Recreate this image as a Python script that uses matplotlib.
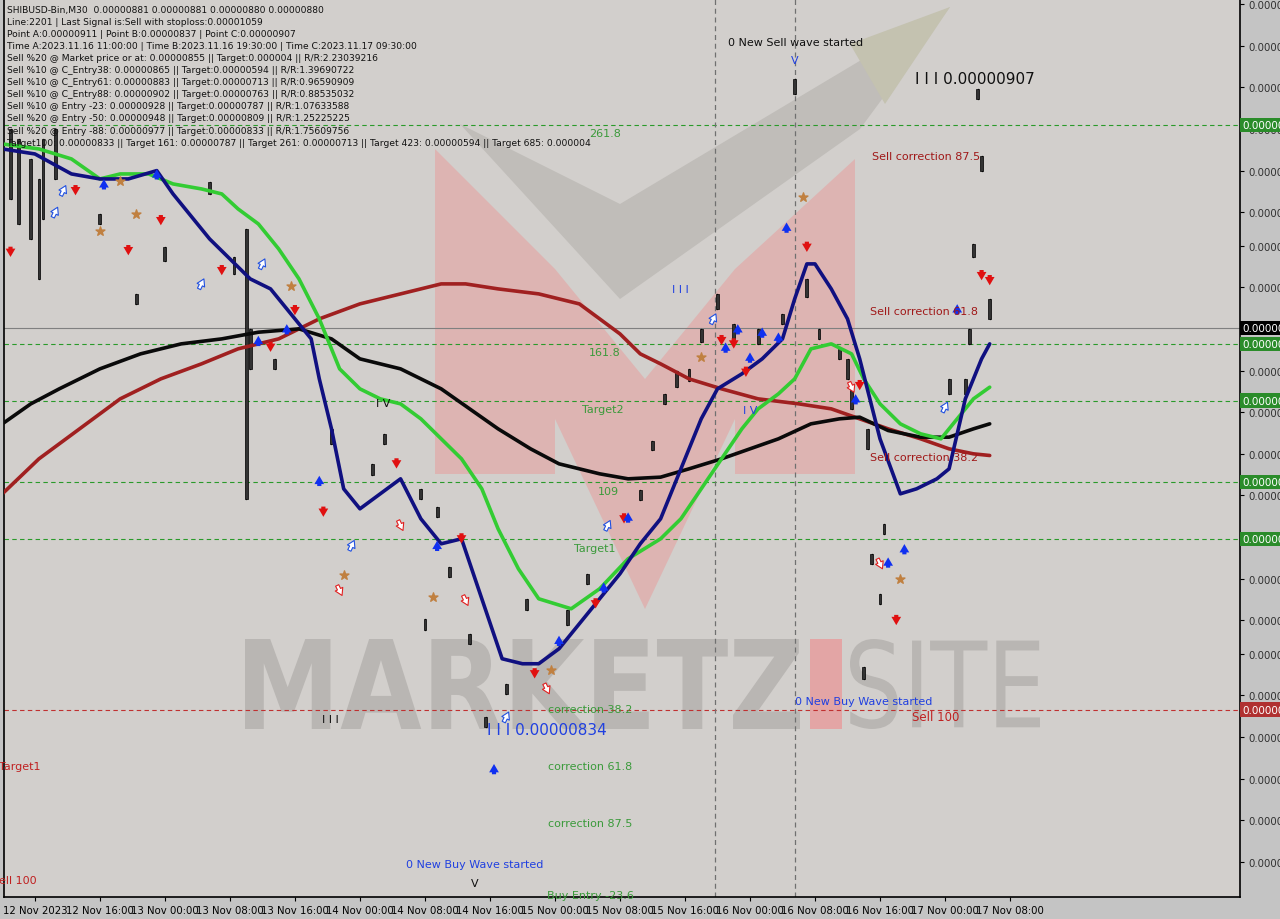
import matplotlib
matplotlib.use("Agg")
import matplotlib.pyplot as plt
import numpy as np
from matplotlib.patches import Polygon, PathPatch
from matplotlib.textpath import TextPath
from matplotlib.font_manager import FontProperties
from matplotlib.transforms import Affine2D

S = 1e-8  # price unit

navy = [(-8,903.6),(0,903.0),(9,900.6),(16,900.0),(23,900.0),(30,901.0),(34,898.2),(38,895.8),(43,892.8),(48,890.4),
        (53,888.0),(58,886.8),(63,883.8),(68,880.8),(70,876.0),(73,870.0),(76,862.8),(80,860.4),(85,862.2),(90,864.0),
        (95,859.2),(100,856.2),(105,856.8),(110,849.6),(115,842.4),(120,841.8),(124,841.8),(129,843.6),(134,846.6),
        (139,849.6),(144,852.6),(149,856.2),(154,859.2),(159,865.2),(164,871.2),(168,874.8),(174,876.6),(179,878.4),
        (184,880.8),(187,885.6),(190,889.8),(192,889.8),(196,886.8),(200,883.2),(203,878.4),(208,868.8),(213,862.2),
        (217,862.8),(222,864.0),(225,865.2),(229,873.6),(233,878.4),(235,880.2)]
green = [(-8,904.2),(1,903.6),(9,902.4),(16,900.0),(21,900.6),(28,900.6),(34,899.4),(41,898.8),(46,898.2),(50,896.4),
         (55,894.6),(60,891.6),(65,888.0),(70,883.2),(75,877.2),(80,874.8),(85,873.6),(90,873.0),(95,871.2),(100,868.8),
         (105,866.4),(110,862.8),(114,858.0),(119,853.2),(124,849.6),(132,848.4),(139,850.8),(146,854.4),(154,856.8),
         (159,859.2),(164,862.8),(169,866.4),(174,870.0),(178,872.4),(183,874.2),(187,876.0),(191,879.6),(196,880.2),
         (201,879.0),(204,876.0),(208,873.0),(213,870.6),(218,869.4),(223,868.8),(226,870.6),(231,873.6),(235,875.0)]
black = [(-8,870.6),(-1,873.0),(6,874.8),(16,877.2),(26,879.0),(36,880.2),(46,880.8),(55,881.6),(65,882.0),(73,880.8),
         (80,878.4),(90,877.2),(100,874.8),(107,872.4),(114,870.0),(122,867.6),(129,865.8),(139,864.6),(146,864.0),
         (154,864.2),(161,865.2),(169,866.4),(176,867.6),(183,868.8),(191,870.6),(198,871.2),(203,871.4),(210,869.8),
         (218,869.0),(225,869.0),(231,870.0),(235,870.6)]
darkred = [(-8,862.2),(1,866.4),(11,870.0),(21,873.6),(31,876.0),(41,877.8),(50,879.6),(60,880.8),(70,883.2),(80,885.0),
           (90,886.2),(100,887.4),(106,887.4),(114,886.8),(124,886.2),(134,885.0),(139,883.2),(144,881.4),(149,879.0),
           (154,877.8),(161,876.0),(169,874.8),(178,873.6),(188,873.0),(196,872.4),(203,871.2),(210,870.0),(218,868.8),
           (225,867.6),(231,867.0),(235,866.8)]
candles = [(-6,906.0,897.6),(-4,904.8,894.6),(-1,902.4,892.8),(1,900.0,888.0),(2,904.8,895.2),(5,906.0,900.0),
           (16,895.8,894.6),(25,886.2,885.0),(32,891.8,890.2),(43,899.6,898.2),(49,890.6,888.6),(52,894.0,861.6),
           (53,882.0,877.2),(59,878.4,877.2),(73,870.0,868.2),(83,865.8,864.4),(86,869.4,868.2),(95,862.8,861.6),
           (99,860.6,859.4),(96,847.2,845.8),(102,853.4,852.2),(107,845.4,844.2),(111,835.4,834.2),(116,839.4,838.2),
           (121,849.6,848.2),(131,848.2,846.4),(136,852.6,851.4),(149,862.6,861.4),(152,868.6,867.4),(155,874.2,873.0),
           (158,877.0,875.0),(161,877.2,875.8),(164,882.0,880.4),(168,886.2,884.4),(172,882.6,880.8),(178,882.0,880.2),
           (184,883.8,882.6),(187,912.0,910.2),(190,888.0,885.8),(193,882.0,880.8),(198,879.6,878.4),(200,878.4,876.0),
           (205,870.0,867.6),(201,874.8,872.4),(209,858.6,857.4),(206,855.0,853.8),(208,850.2,849.0),(204,841.4,840.0),
           (225,876.0,874.2),(229,876.0,874.2),(230,882.0,880.2),(231,892.2,890.6),(232,910.8,909.6),(233,902.8,901.0),
           (235,885.6,883.2)]
red_down = [(-6,891.6),(10,899.0),(23,891.8),(31,895.4),(46,889.4),(58,880.2),(64,884.6),(89,866.2),(71,860.4),
            (105,857.2),(123,841.0),(138,849.4),(145,859.6),(169,881.0),(172,880.6),(175,877.2),(190,892.2),
            (203,875.6),(212,847.4),(233,888.8),(235,888.2)]
blue_up = [(17,899.0),(30,900.2),(55,880.2),(62,881.6),(70,863.4),(99,855.6),(113,828.8),(129,844.2),(140,850.6),
           (146,859.0),(170,879.4),(173,881.6),(176,878.2),(179,881.2),(183,880.6),(185,893.8),(202,873.2),
           (210,853.6),(214,855.2),(227,884.0)]
stars = [(21,899.8),(25,895.8),(16,893.8),(63,887.2),(76,852.4),(98,849.8),(127,841.0),(189,897.8),(213,852.0),(164,878.6)]
blue_hollow = [(7,898.6),(5,896.0),(41,887.4),(56,889.8),(78,856.0),(116,835.4),(141,858.4),(167,883.2),(224,872.6)]
red_hollow = [(75,850.6),(90,858.4),(106,849.4),(126,838.8),(201,875.0),(208,853.8)]
green_levels = [906.5, 880.2, 873.4, 863.6, 856.8]
red_level = 836.3
last_price = 882.1
vlines_bars = [167.4, 187]
xtick_bars = list(range(0, 241, 16))
xtick_labels = ['12 Nov 2023','12 Nov 16:00','13 Nov 00:00','13 Nov 08:00','13 Nov 16:00','14 Nov 00:00',
                '14 Nov 08:00','14 Nov 16:00','15 Nov 00:00','15 Nov 08:00','15 Nov 16:00','16 Nov 00:00',
                '16 Nov 08:00','16 Nov 16:00','17 Nov 00:00','17 Nov 08:00']
ytick_vals = [921, 916, 911, 906, 901, 896, 892, 887, 882, 877, 872, 867, 862, 857, 852, 847, 843, 838, 833, 828, 823, 818]

fig = plt.figure(figsize=(12.8, 9.2), dpi=100, facecolor='#c4c4c4')
ax = fig.add_axes([4/1280, 22/920, 1236/1280, 898/920])
ax.set_facecolor('#d2cfcc')
ax.set_xlim(-7.6, 296.6)
ax.set_ylim(813.8*S, 921.6*S)

def A(x, y):  # pixel in reference -> axes fraction (for annotation placement)
    return ((x-4)/1236, 1-y/898)

T = ax.transAxes
# watermark
ax.add_patch(Polygon([A(460,125),A(620,205),A(950,8),A(860,130),A(620,300)], closed=True, transform=T,
                     facecolor='#c0bdb9', edgecolor='none', zorder=0))
ax.add_patch(Polygon([A(850,45),A(950,8),A(885,105)], closed=True, transform=T, facecolor='#c4c2b0', edgecolor='none', zorder=0))
for poly in ([A(435,150),A(555,270),A(555,475),A(435,475)],
             [A(555,270),A(645,380),A(735,270),A(735,420),A(645,610),A(555,420)],
             [A(735,270),A(855,160),A(855,475),A(735,475)]):
    ax.add_patch(Polygon(poly, closed=True, transform=T, facecolor='#e89a9a', alpha=0.5, edgecolor='none', zorder=0))

def fit_text(s, x0, x1, ytop, ybot, bold):
    fp = FontProperties(family='DejaVu Sans', weight='bold' if bold else 'normal')
    tp = TextPath((0, 0), s, size=100, prop=fp)
    ext = tp.get_extents()
    (ax0, ay1), (ax1, ay0) = A(x0, ytop), A(x1, ybot)
    tr = Affine2D().translate(-ext.x0, -ext.y0).scale((ax1-ax0)/ext.width, (ay1-ay0)/ext.height).translate(ax0, ay0)
    ax.add_patch(PathPatch(tr.transform_path(tp), transform=T, facecolor='#b9b6b3', edgecolor='none', zorder=0))
fit_text('MARKETZ', 245, 800, 640, 730, True)
fit_text('SITE', 850, 1040, 640, 730, False)
ax.add_patch(Polygon([A(810,640),A(842,640),A(842,730),A(810,730)], closed=True, transform=T, facecolor='#e3a5a5', edgecolor='none', zorder=0))

# levels
for lv in green_levels:
    ax.axhline(lv*S, color='#2a9a2a', ls=(0,(4,3)), lw=0.8)
    ax.text(1.002, lv*S, '0.00000%d' % round(lv), transform=ax.get_yaxis_transform(), fontsize=7.5, color='white',
            va='center', ha='left', bbox=dict(facecolor='#2a8c2a', edgecolor='none', pad=1.5), clip_on=False)
ax.axhline(red_level*S, color='#c03030', ls=(0,(4,3)), lw=0.8)
ax.text(1.002, red_level*S, '0.00000%d' % round(red_level), transform=ax.get_yaxis_transform(), fontsize=7.5, color='white',
        va='center', ha='left', bbox=dict(facecolor='#b03030', edgecolor='none', pad=1.5), clip_on=False)
ax.axhline(last_price*S, color='#808080', lw=0.8)
ax.text(1.002, last_price*S, '0.00000%d' % round(last_price), transform=ax.get_yaxis_transform(), fontsize=7.5, color='white',
        va='center', ha='left', bbox=dict(facecolor='black', edgecolor='none', pad=1.5), clip_on=False)
for vb in vlines_bars:
    ax.axvline(vb, color='#707070', ls=(0,(4,3)), lw=0.9)

# candles
for b, hi, lo in candles:
    ax.plot([b, b], [lo*S, hi*S], color='black', lw=0.9, zorder=3)
    ax.add_patch(plt.Rectangle((b-0.35, lo*S), 0.7, (hi-lo)*S, facecolor='#333333', edgecolor='black', lw=0.5, zorder=3))

def line(data, color, lw):
    d = np.array(data)
    ax.plot(d[:, 0], d[:, 1]*S, color=color, lw=lw, zorder=4, solid_capstyle='round')
line(darkred, '#a02020', 2.6)
line(black, '#0a0a0a', 2.6)
line(green, '#33cc33', 2.6)
line(navy, '#101080', 2.6)

for b, p in red_down:
    ax.annotate('', xy=(b, (p-1.3)*S), xytext=(b, (p+0.6)*S),
                arrowprops=dict(arrowstyle='simple,head_width=0.7,head_length=0.6,tail_width=0.3', color='#e01010', lw=0), zorder=5)
for b, p in blue_up:
    ax.annotate('', xy=(b, (p+1.3)*S), xytext=(b, (p-0.6)*S),
                arrowprops=dict(arrowstyle='simple,head_width=0.7,head_length=0.6,tail_width=0.3', color='#1030f0', lw=0), zorder=5)
for b, p in blue_hollow:
    ax.annotate('', xy=(b+0.9, (p+0.9)*S), xytext=(b-0.9, (p-0.9)*S),
                arrowprops=dict(arrowstyle='simple,head_width=0.6,head_length=0.5,tail_width=0.25', fc='white', ec='#2050e0', lw=0.8), zorder=5)
for b, p in red_hollow:
    ax.annotate('', xy=(b+0.9, (p-0.9)*S), xytext=(b-0.9, (p+0.9)*S),
                arrowprops=dict(arrowstyle='simple,head_width=0.6,head_length=0.5,tail_width=0.25', fc='white', ec='#e02020', lw=0.8), zorder=5)
st = np.array(stars)
ax.scatter(st[:, 0], st[:, 1]*S, marker='*', s=45, color='#c08040', zorder=5)

# annotations
def t(x, y, s, c, fs=8, ha='center'):
    ax.text(*A(x, y), s, transform=T, color=c, fontsize=fs, ha=ha, va='center', zorder=6)
t(796, 43, '0 New Sell wave started', '#101010')
t(795, 61, 'V', '#2040e0')
t(975, 79, 'I I I 0.00000907', '#101010', 11)
t(605, 134, '261.8', '#3a9a3a'); t(605, 353, '161.8', '#3a9a3a'); t(603, 410, 'Target2', '#3a9a3a')
t(608, 492, '109', '#3a9a3a'); t(595, 549, 'Target1', '#3a9a3a')
t(590, 710, 'correction 38.2', '#3a9a3a'); t(590, 767, 'correction 61.8', '#3a9a3a')
t(590, 824, 'correction 87.5', '#3a9a3a'); t(590, 896, 'Buy Entry -23.6', '#3a9a3a')
t(547, 731, 'I I I 0.00000834', '#2040e0', 11)
t(475, 865, '0 New Buy Wave started', '#2040e0'); t(475, 884, 'V', '#101010')
t(864, 702, '0 New Buy Wave started', '#2040e0'); t(936, 718, 'Sell 100', '#c02020', 8.5)
t(926, 157, 'Sell correction 87.5', '#a01818'); t(924, 312, 'Sell correction 61.8', '#a01818')
t(924, 458, 'Sell correction 38.2', '#a01818')
t(680, 290, 'I I I', '#2040e0'); t(383, 404, 'I V', '#101010'); t(750, 411, 'I V', '#2040e0')
t(330, 720, 'I I I', '#101010'); t(20, 767, 'Target1', '#c02020', ha='center'); t(18, 881, 'ell 100', '#c02020')

info = ['SHIBUSD-Bin,M30  0.00000881 0.00000881 0.00000880 0.00000880',
        'Line:2201 | Last Signal is:Sell with stoploss:0.00001059',
        'Point A:0.00000911 | Point B:0.00000837 | Point C:0.00000907',
        'Time A:2023.11.16 11:00:00 | Time B:2023.11.16 19:30:00 | Time C:2023.11.17 09:30:00',
        'Sell %20 @ Market price or at: 0.00000855 || Target:0.000004 || R/R:2.23039216',
        'Sell %10 @ C_Entry38: 0.00000865 || Target:0.00000594 || R/R:1.39690722',
        'Sell %10 @ C_Entry61: 0.00000883 || Target:0.00000713 || R/R:0.96590909',
        'Sell %10 @ C_Entry88: 0.00000902 || Target:0.00000763 || R/R:0.88535032',
        'Sell %10 @ Entry -23: 0.00000928 || Target:0.00000787 || R/R:1.07633588',
        'Sell %20 @ Entry -50: 0.00000948 || Target:0.00000809 || R/R:1.25225225',
        'Sell %20 @ Entry -88: 0.00000977 || Target:0.00000833 || R/R:1.75609756',
        'Target100: 0.00000833 || Target 161: 0.00000787 || Target 261: 0.00000713 || Target 423: 0.00000594 || Target 685: 0.000004']
for i, s in enumerate(info):
    ax.text(*A(7, 10 + i*12.1), s, transform=T, fontsize=6.6, color='#111111', va='center', ha='left', zorder=7)

ax.set_xticks(xtick_bars)
ax.set_xticklabels(xtick_labels, fontsize=7.3)
ax.set_yticks([v*S for v in ytick_vals])
ax.set_yticklabels(['0.00000%d' % v for v in ytick_vals], fontsize=7.3)
ax.yaxis.tick_right()
ax.tick_params(axis='both', length=3, color='black', pad=3)
for lab in ax.get_yticklabels():
    lab.set_color('#303030')
for sp in ax.spines.values():
    sp.set_linewidth(1.2)
fig.savefig('out.png', dpi=100, facecolor=fig.get_facecolor())
